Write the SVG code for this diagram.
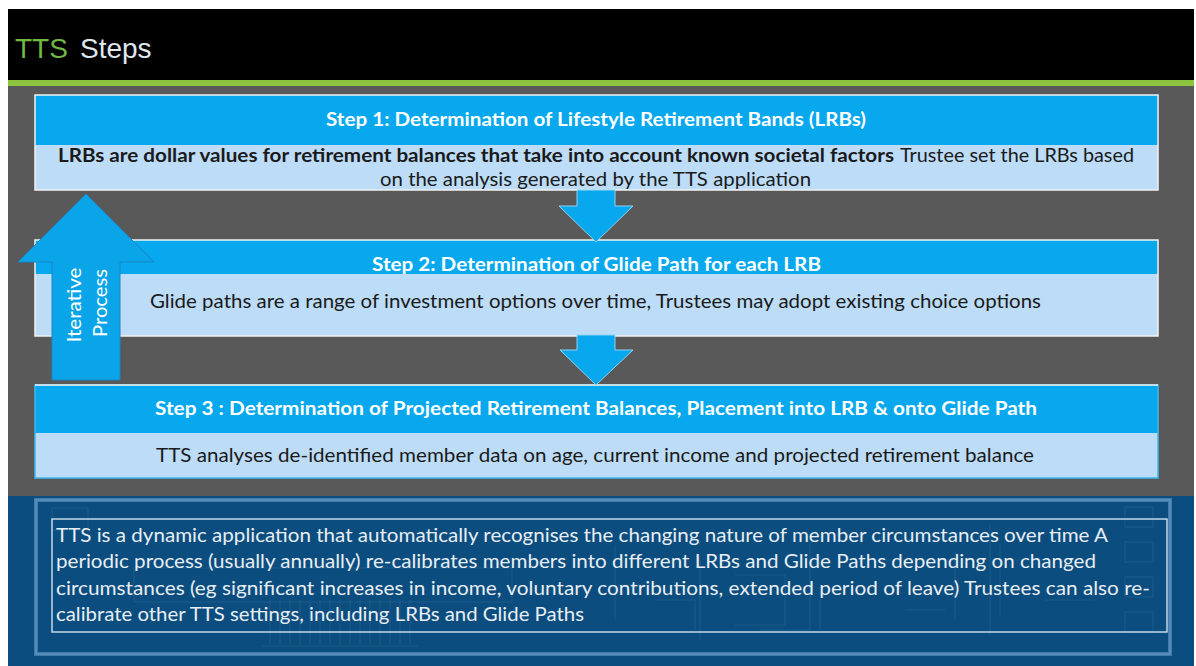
<svg xmlns="http://www.w3.org/2000/svg" width="1196" height="666" viewBox="0 0 1196 666">
  <defs>
    <style>
      .title { font-family: "Liberation Sans", Arial, sans-serif; font-size: 28px; }
      .hdr { font-family: Lato, "Liberation Sans", sans-serif; font-size: 18px; font-weight: bold; fill: #ffffff; }
      .body { font-family: Lato, "Liberation Sans", sans-serif; font-size: 19px; fill: #1a1a1a; }
      .bodyb { font-weight: bold; }
      .note { font-family: Lato, "Liberation Sans", sans-serif; font-size: 19px; fill: #e8eef5; }
      .vert { font-family: Lato, "Liberation Sans", sans-serif; font-size: 19px; fill: #ffffff; }
      .band { fill: #07a8ed; }
      .pane { fill: #bcdcf7; }
      .frame { fill: none; stroke: #f2f2f2; stroke-width: 1.5; }
      .down { fill: #07a8ed; stroke: #8fd3f3; stroke-width: 1; }
      .circ { fill: none; stroke: #2f6d9c; stroke-width: 1.2; opacity: 0.4; }
    </style>
  </defs>

  <!-- page backgrounds -->
  <rect x="0" y="0" width="1196" height="666" fill="#ffffff"/>
  <rect x="8" y="9" width="1186" height="71" fill="#000000"/>
  <rect x="8" y="80" width="1186" height="6" fill="#8cc43f"/>
  <rect x="8" y="86" width="1186" height="410" fill="#595959"/>
  <rect x="8" y="496" width="1186" height="170" fill="#0b4d7e"/>

  <!-- title -->
  <g id="title">
    <text class="title" x="15" y="58" fill="#72b843">TTS</text>
    <text class="title" x="80" y="58" fill="#dfe7ef">Steps</text>
  </g>

  <!-- step 1 -->
  <g id="step1">
    <rect class="band" x="35" y="95" width="1123" height="50"/>
    <rect class="pane" x="35" y="145" width="1123" height="45"/>
    <rect class="frame" x="35" y="95" width="1123" height="95"/>
    <text class="hdr" x="326" y="126" textLength="540" lengthAdjust="spacingAndGlyphs">Step 1: Determination of Lifestyle Retirement Bands (LRBs)</text>
    <text class="body" y="162"><tspan class="bodyb" x="58" textLength="836" lengthAdjust="spacingAndGlyphs">LRBs are dollar values for retirement balances that take into account known societal factors</tspan><tspan x="900" textLength="234" lengthAdjust="spacingAndGlyphs">Trustee set the LRBs based</tspan></text>
    <text class="body" x="380" y="186" textLength="431" lengthAdjust="spacingAndGlyphs">on the analysis generated by the TTS application</text>
  </g>

  <!-- step 2 -->
  <g id="step2">
    <rect class="band" x="35" y="240" width="1123" height="34"/>
    <rect class="pane" x="35" y="274" width="1123" height="62"/>
    <rect class="frame" x="35" y="240" width="1123" height="96"/>
    <text class="hdr" x="372" y="271" textLength="449" lengthAdjust="spacingAndGlyphs">Step 2: Determination of Glide Path for each LRB</text>
    <text class="body" x="150" y="308" textLength="891" lengthAdjust="spacingAndGlyphs">Glide paths are a range of investment options over time, Trustees may adopt existing choice options</text>
  </g>

  <!-- step 3 -->
  <g id="step3">
    <rect class="band" x="35" y="385" width="1123" height="48"/>
    <rect class="pane" x="35" y="433" width="1123" height="45"/>
    <rect x="35" y="385" width="1123" height="93" fill="none" stroke="#3fb8f0" stroke-width="1.5"/>
    <line x1="35" y1="385" x2="1158" y2="385" stroke="#f2f2f2" stroke-width="1.5"/>
    <text class="hdr" x="155" y="415" textLength="882" lengthAdjust="spacingAndGlyphs">Step 3 :  Determination of Projected Retirement Balances, Placement into LRB &amp; onto Glide Path</text>
    <text class="body" x="156" y="462" textLength="878" lengthAdjust="spacingAndGlyphs">TTS analyses de-identified member data on age, current income and projected retirement balance</text>
  </g>

  <!-- connectors -->
  <g id="connectors">
    <polygon class="down" points="577,190 615,190 615,206 633,206 596,242 559,206 577,206"/>
    <polygon class="down" points="577,335 615,335 615,350 633,350 596,385 560,350 577,350"/>
    <g id="iterative">
      <polygon points="86,194 154,262 120,262 120,380 52,380 52,262 18,262" fill="#0aa5e9" stroke="#1b86c4" stroke-width="1"/>
      <text class="vert" transform="translate(81,305) rotate(-90)" text-anchor="middle" textLength="75" lengthAdjust="spacingAndGlyphs">Iterative</text>
      <text class="vert" transform="translate(107,303) rotate(-90)" text-anchor="middle" textLength="68" lengthAdjust="spacingAndGlyphs">Process</text>
    </g>
  </g>

  <!-- faint circuit artwork behind the note -->
  <g id="circuit">
    <rect class="circ" x="52" y="508" width="36" height="22"/>
    <rect class="circ" x="134" y="568" width="378" height="34"/>
    <path class="circ" d="M270 600 v45 M280 600 v45 M290 600 v45 M300 600 v45 M310 600 v45 M320 600 v45 M330 600 v45 M340 600 v45 M350 600 v45 M360 600 v45 M370 600 v45 M380 600 v45 M390 600 v45 M400 600 v45 M410 600 v45"/>
    <path class="circ" d="M262 646 h156"/>
    <path class="circ" d="M615 545 v75 M615 585 h30 M655 600 h40 v30 M700 560 v80 M735 575 h50 v50 h-50 M810 540 v90 h-50 M820 600 v30 M885 560 h70 v60 M905 610 h40 M990 525 v110 M1000 545 v70 M1010 560 h40 M1045 600 h50"/>
    <rect class="circ" x="1125" y="507" width="28" height="20"/>
    <rect class="circ" x="1125" y="542" width="28" height="20"/>
    <rect class="circ" x="1125" y="577" width="28" height="20"/>
    <rect class="circ" x="1125" y="612" width="28" height="20"/>
  </g>

  <!-- note panel -->
  <g id="note">
    <rect x="36" y="500" width="1134" height="154" fill="none" stroke="#3e7bab" stroke-width="4"/>
    <rect x="36" y="500" width="1134" height="154" fill="none" stroke="#6d9fc6" stroke-width="1"/>
    <rect x="52" y="519" width="1115" height="113" fill="none" stroke="#c3d8ea" stroke-width="1.5"/>
    <text class="note" x="56" y="542" textLength="1052" lengthAdjust="spacingAndGlyphs">TTS is a dynamic application that automatically recognises the changing nature of member circumstances over time A</text>
    <text class="note" x="56" y="568" textLength="1040" lengthAdjust="spacingAndGlyphs">periodic process (usually annually) re-calibrates members into different LRBs and Glide Paths depending on changed</text>
    <text class="note" x="56" y="595" textLength="1094" lengthAdjust="spacingAndGlyphs">circumstances (eg significant increases in income, voluntary contributions,  extended period of leave) Trustees can also re-</text>
    <text class="note" x="56" y="621" textLength="528" lengthAdjust="spacingAndGlyphs">calibrate other TTS settings, including LRBs and Glide Paths</text>
  </g>
</svg>
